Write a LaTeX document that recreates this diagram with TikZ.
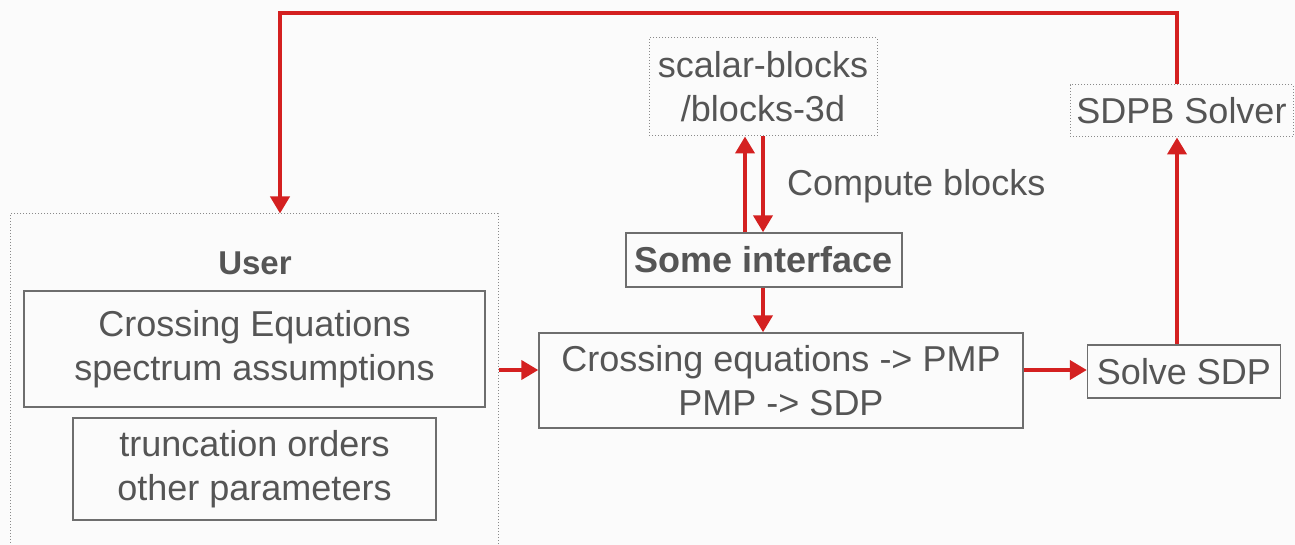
\documentclass[tikz,border=0pt]{standalone}
\usepackage{fontspec}
\setmainfont{Liberation Sans}
\usetikzlibrary{arrows.meta}
\definecolor{txtgray}{HTML}{555555}
\definecolor{boxgray}{HTML}{6E6E6E}
\definecolor{dotgray}{HTML}{8A8A8A}
\definecolor{arrred}{HTML}{D42020}
\definecolor{bgcol}{HTML}{FBFBFB}
\tikzset{
  box/.style={draw=boxgray, line width=1.4pt, inner sep=0pt, align=center, text=txtgray,
    font=\fontsize{36}{44}\selectfont},
  dotbox/.style={box, draw=dotgray, line width=1pt, dotted},
  lbl/.style={inner sep=0pt, text=txtgray, font=\fontsize{36}{44}\selectfont},
  arr/.style={draw=arrred, line width=4pt, -{Triangle[length=17pt,width=19pt]}},
  plainred/.style={draw=arrred, line width=4pt},
}
\begin{document}
\begin{tikzpicture}[x=1pt,y=-1pt]
\useasboundingbox (0,0) rectangle (1295,545);
\fill[bgcol] (0,0) rectangle (1295,545);
\clip (0,0) rectangle (1295,545);

% nodes
\node[dotbox, minimum width=488pt, minimum height=340pt] (userbox) at (254,384) {};
\node[lbl, font=\fontsize{33}{40}\selectfont\bfseries] (user) at (255,263) {User};
\node[box, minimum width=461pt, minimum height=116pt] (ce) at (254.5,349) {Crossing Equations\\spectrum assumptions};
\node[box, minimum width=363pt, minimum height=102pt] (trunc) at (254.5,469) {truncation orders\\other parameters};
\node[box, minimum width=484pt, minimum height=95pt] (cross) at (781,380.5) {Crossing equations -> PMP\\PMP -> SDP};
\node[box, minimum width=193pt, minimum height=53pt] (solve) at (1184,371.5) {Solve SDP};
\node[dotbox, minimum width=223pt, minimum height=52pt] (sdpb) at (1181.5,111) {SDPB Solver};
\node[dotbox, minimum width=228pt, minimum height=98pt] (scalar) at (763,87) {scalar-blocks\\/blocks-3d};
\node[box, minimum width=276pt, minimum height=54pt, font=\fontsize{36}{44}\selectfont\bfseries] (iface) at (764,260) {Some interface};
\node[lbl, anchor=west] (compute) at (787,186) {Compute blocks};

% coordinates for routing
\coordinate (tl) at (280,13);
\coordinate (tr) at (1177,13);
\coordinate (yin) at (0,370);
\coordinate (xup) at (745,0);
\coordinate (xdn) at (763,0);

% connectors
\draw[arr] (sdpb.north -| tr) -- (tr) -- (tl) -- (userbox.north -| tl);
\draw[arr] (solve.north -| tr) -- (sdpb.south -| tr);
\draw[arr] (userbox.east |- yin) -- (cross.west |- yin);
\draw[arr] (cross.east |- yin) -- (solve.west |- yin);
\draw[arr] (iface.north -| xup) -- (scalar.south -| xup);
\draw[arr] (scalar.south -| xdn) -- (iface.north -| xdn);
\draw[arr] (iface.south -| xdn) -- (cross.north -| xdn);
\end{tikzpicture}
\end{document}
